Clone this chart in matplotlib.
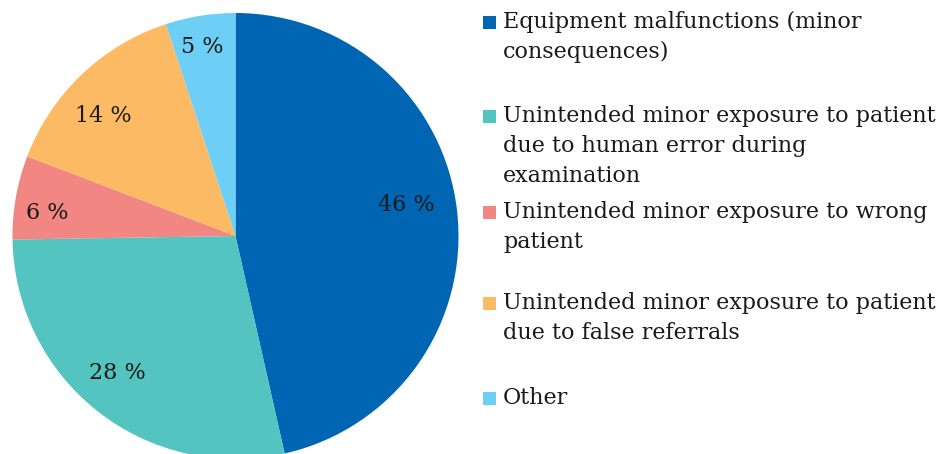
import numpy as np
import matplotlib
matplotlib.use("Agg")
import matplotlib.pyplot as plt
from matplotlib.patches import Rectangle

# Data
categories = [
    "Equipment malfunctions (minor\nconsequences)",
    "Unintended minor exposure to patient\ndue to human error during\nexamination",
    "Unintended minor exposure to wrong\npatient",
    "Unintended minor exposure to patient\ndue to false referrals",
    "Other",
]
shares = [46, 28, 6, 14, 5]
colors = ["#0066B3", "#53C4C0", "#F28683", "#FBBA63", "#6ECFF6"]

FONT = "DejaVu Serif"
FS = 16
TEXT_COLOR = "#1a1a1a"

W, H, DPI = 945, 454, 100
fig = plt.figure(figsize=(W / DPI, H / DPI), dpi=DPI)
fig.patch.set_facecolor("white")

# Pie axes: centre and radius in pixels
cx, cy, r = 235.5, 236, 223
ax = fig.add_axes([(cx - r) / W, (H - cy - r) / H, 2 * r / W, 2 * r / H])
ax.axis("off")

wedges, _ = ax.pie(shares, colors=colors, startangle=90, counterclock=False,
                   radius=1, wedgeprops=dict(linewidth=0))
ax.set_xlim(-1, 1)
ax.set_ylim(-1, 1)
ax.set_aspect("equal")

# Percentage labels: radial distance and angular nudge (degrees) per slice
label_radius = [0.78, 0.81, 0.85, 0.80, 0.86]
label_nudge = [3.8, -2.6, 3.0, 4.3, 1.0]
for w, v, rr, dn in zip(wedges, shares, label_radius, label_nudge):
    ang = np.deg2rad((w.theta1 + w.theta2) / 2 + dn)
    ax.text(rr * np.cos(ang), rr * np.sin(ang), f"{v} %", ha="center", va="center",
            fontsize=FS, family=FONT, color=TEXT_COLOR)

# Legend drawn manually (pixel positions of each entry's first line)
legend_y = [22, 116, 212, 303, 398]
line_px = 30
for lab, col, y in zip(categories, colors, legend_y):
    sq = 13
    fig.patches.append(Rectangle((483 / W, (H - y - sq / 2) / H), sq / W, sq / H,
                                 transform=fig.transFigure, facecolor=col,
                                 edgecolor="none"))
    for i, line in enumerate(lab.split("\n")):
        fig.text(503 / W, (H - y - i * line_px) / H, line, ha="left", va="center",
                 fontsize=FS, family=FONT, color=TEXT_COLOR)

fig.savefig("out.png", dpi=DPI, facecolor="white")
